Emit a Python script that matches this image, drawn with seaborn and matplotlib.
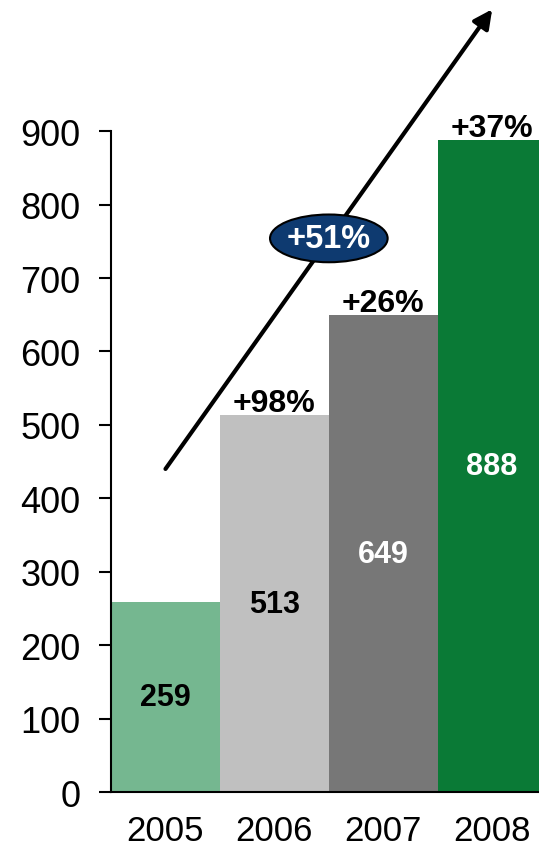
import numpy as np
import matplotlib.pyplot as plt
import matplotlib.patches as mpatches
import seaborn as sns

# data
years = ['2005', '2006', '2007', '2008']
values = [259, 513, 649, 888]
growth = ['', '+98%', '+26%', '+37%']
cagr = '+51%'
bar_colors = ['#75B790', '#C0C0C0', '#777777', '#0A7A36']
value_colors = ['black', 'black', 'white', 'white']
yticks = [0, 100, 200, 300, 400, 500, 600, 700, 800, 900]

sns.set_style('white')
plt.rcParams['font.family'] = ['Liberation Sans', 'DejaVu Sans']

fig = plt.figure(figsize=(5.39, 8.53), dpi=100)
ax = fig.add_axes([0.206, 0.0703, 0.794, 0.9297])

sns.barplot(x=years, y=values, hue=years, palette=bar_colors, legend=False,
            width=1.0, saturation=1, ax=ax, linewidth=0)

ax.set_xlim(-0.5, 3.43)
ax.set_ylim(0, 1080)
ax.set_yticks(yticks)
ax.tick_params(axis='y', labelsize=26, length=9, width=1.5, pad=13, direction='out',
               left=True, colors='black')
ax.tick_params(axis='x', labelsize=25, length=0, pad=16, colors='black')
for s in ['top', 'right']:
    ax.spines[s].set_visible(False)
ax.spines['left'].set_bounds(0, 900)
ax.spines['left'].set_linewidth(1.5)
ax.spines['bottom'].set_linewidth(1.5)
ax.spines['left'].set_color('black')
ax.spines['bottom'].set_color('black')

for i, v in enumerate(values):
    ax.text(i, v / 2, str(v), ha='center', va='center', fontsize=22,
            fontweight='bold', color=value_colors[i])
    if growth[i]:
        ax.text(i, v + 6, growth[i], ha='center', va='baseline', fontsize=23,
                fontweight='bold', color='black')

ax.annotate('', xy=(3.0, 1066), xytext=(0.0, 440),
            arrowprops=dict(arrowstyle='-|>', lw=3, color='black', mutation_scale=28,
                            shrinkA=0, shrinkB=0), annotation_clip=False)

ell = mpatches.Ellipse((1.5, 754), 1.08, 65, facecolor='#0E3A70', edgecolor='black',
                       lw=1.5, zorder=5)
ax.add_patch(ell)
ax.text(1.5, 754, cagr, ha='center', va='center', fontsize=23.5, fontweight='bold',
        color='white', zorder=6)

fig.savefig('out.png', dpi=100)
